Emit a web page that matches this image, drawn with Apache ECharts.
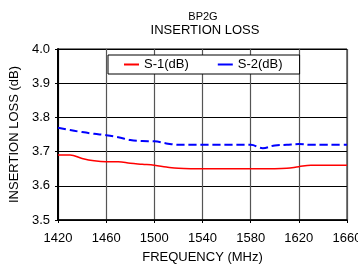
<!DOCTYPE html>
<html><head><meta charset="utf-8">
<script src="https://cdn.jsdelivr.net/npm/echarts@6/dist/echarts.min.js"></script>
<style>html,body{margin:0;padding:0;background:#fff}#c{width:358px;height:266px}</style>
</head><body><div id="c"></div>
<script>
const freq = [1420,1430,1440,1450,1460,1470,1480,1490,1500,1510,1520,1530,1540,1550,1560,1570,1580,1590,1600,1610,1620,1630,1640,1650,1660];
const s1 = [3.69,3.69,3.68,3.673,3.67,3.67,3.666,3.663,3.66,3.655,3.651,3.65,3.65,3.65,3.65,3.65,3.65,3.65,3.65,3.651,3.656,3.66,3.66,3.66,3.66];
const s2 = [3.77,3.763,3.757,3.752,3.748,3.742,3.734,3.731,3.73,3.724,3.72,3.72,3.72,3.72,3.72,3.72,3.72,3.71,3.718,3.72,3.722,3.72,3.72,3.72,3.72];
const seriesNames = ['S-1(dB)','S-2(dB)'];
const titleLines = ['BP2G','INSERTION LOSS'];
const xTicks = {min:1420,max:1660,interval:40};
const yTicks = {min:3.5,max:4.0,interval:0.1};
const FONT = 'Liberation Sans';
const chart = echarts.init(document.getElementById('c'));
chart.setOption({
  animation:false,
  textStyle:{fontFamily:FONT,color:'#000'},
  title:[
    {text:titleLines[0],left:203,top:11,textAlign:'center',padding:0,
     textStyle:{fontFamily:FONT,fontSize:11,fontWeight:'normal',color:'#000'}},
    {text:titleLines[1],left:205,top:24,textAlign:'center',padding:0,
     textStyle:{fontFamily:FONT,fontSize:13,fontWeight:'normal',color:'#000'}}
  ],
  legend:{left:108,top:55,orient:'horizontal',backgroundColor:'#fff',borderColor:'#000',borderWidth:1,borderRadius:0,
    padding:[3,17,3,16],itemGap:29,itemWidth:15,itemHeight:2,
    textStyle:{fontFamily:FONT,fontSize:13,color:'#000'},
    data:[{name:seriesNames[0],icon:'rect',itemStyle:{color:'#ff0000'}},{name:seriesNames[1],icon:'rect',itemStyle:{color:'#0000ff'}}]},
  grid:{left:58,right:11,top:49,bottom:46,show:true,borderColor:'#000',borderWidth:1,containLabel:false,outerBoundsMode:'none'},
  xAxis:{type:'value',min:xTicks.min,max:xTicks.max,interval:xTicks.interval,
    name:'FREQUENCY (MHz)',nameLocation:'middle',nameGap:31,
    nameTextStyle:{fontFamily:FONT,fontSize:13,color:'#000'},
    axisLine:{lineStyle:{color:'#000',width:1.5}},
    axisTick:{show:true,length:3,lineStyle:{color:'#000'}},
    axisLabel:{fontFamily:FONT,fontSize:13,color:'#000',margin:12,formatter:v=>String(v),hideOverlap:false},
    splitLine:{show:true,lineStyle:{color:'#555',width:1.2}}},
  yAxis:{type:'value',min:yTicks.min,max:yTicks.max,interval:yTicks.interval,
    name:'INSERTION LOSS (dB)',nameLocation:'middle',nameGap:31,
    nameTextStyle:{fontFamily:FONT,fontSize:13,color:'#000'},
    axisLine:{show:true,lineStyle:{color:'#000',width:2}},
    axisTick:{show:true,length:3,lineStyle:{color:'#000'}},
    axisLabel:{fontFamily:FONT,fontSize:13,color:'#000',margin:8,formatter:v=>v.toFixed(1)},
    splitLine:{show:true,lineStyle:{color:'#000',width:1}}},
  series:[
    {name:seriesNames[0],type:'line',data:freq.map((f,i)=>[f,s1[i]]),smooth:0.4,showSymbol:false,
     lineStyle:{color:'#ff0000',width:1.5},itemStyle:{color:'#ff0000'}},
    {name:seriesNames[1],type:'line',data:freq.map((f,i)=>[f,s2[i]]),smooth:0.4,showSymbol:false,
     lineStyle:{color:'#0000ff',width:2,type:[8,4]},itemStyle:{color:'#0000ff'}}
  ]
});
</script></body></html>
